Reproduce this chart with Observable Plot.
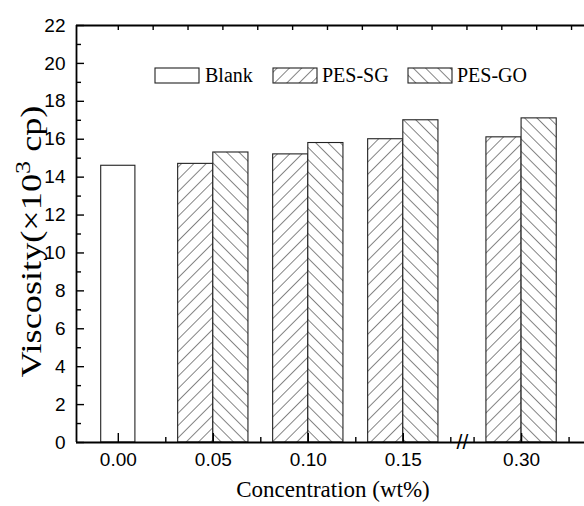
<!DOCTYPE html>
<html><head><meta charset="utf-8">
<script src="https://cdn.jsdelivr.net/npm/d3@7"></script>
<script src="https://cdn.jsdelivr.net/npm/@observablehq/plot@0.6"></script>
<style>
body{margin:0;background:#fff}
#chart{position:relative;width:584px;height:506px;overflow:hidden}
</style>
</head><body><div id="chart"></div>
<script>
// ---- data ----
const categories = ["0.00", "0.05", "0.10", "0.15", "0.30"];
const seriesNames = ["Blank", "PES-SG", "PES-GO"];
const blank = [14.6, null, null, null, null];
const pesSG = [null, 14.7, 15.2, 16.0, 16.1];
const pesGO = [null, 15.3, 15.8, 17.0, 17.1];
const yTicks = [0, 2, 4, 6, 8, 10, 12, 14, 16, 18, 20, 22];
const xTitle = "Concentration (wt%)";

// ---- layout ----
const W = 584, H = 506, mL = 76, mT = 25, mB = 64;
const pos = [0, 1, 2, 3, 4.245];            // broken axis: gap before 0.30
const unitPx = 95;
const xDomain = [-0.44, -0.44 + (W - mL) / unitPx];
const halfBlank = 0.18, bw = 0.37;
const yMinor = d3.range(1, 22, 2);
const xMinor = [0.5, 1.5, 2.5, pos[3] + 0.5, pos[4] - 0.5, pos[4] + 0.5];
const topTicks = d3.range(0, 14).map(i => i * 0.367);
const breakPos = (pos[3] + pos[4]) / 2;

const rows = [];
categories.forEach((c, i) => {
  if (blank[i] != null) rows.push({s: seriesNames[0], x1: pos[i] - halfBlank, x2: pos[i] + halfBlank, v: blank[i]});
  if (pesSG[i] != null) rows.push({s: seriesNames[1], x1: pos[i] - bw, x2: pos[i], v: pesSG[i]});
  if (pesGO[i] != null) rows.push({s: seriesNames[2], x1: pos[i], x2: pos[i] + bw, v: pesGO[i]});
});
const fills = {"Blank": "white", "PES-SG": "url(#pSG)", "PES-GO": "url(#pGO)"};

const axisFont = "'Liberation Sans', Arial, sans-serif";
const serif = "'Liberation Serif', 'Times New Roman', serif";

const chart = Plot.plot({
  width: W, height: H,
  marginLeft: mL, marginRight: 0, marginTop: mT, marginBottom: mB,
  style: {fontFamily: axisFont, background: "white", color: "black"},
  x: {type: "linear", domain: xDomain},
  y: {domain: [0, 22]},
  marks: [
    ...seriesNames.map(s => Plot.rectY(rows.filter(r => r.s === s), {
      x1: "x1", x2: "x2", y1: 0, y2: "v",
      fill: fills[s], stroke: "#222", strokeWidth: 1.1
    })),
    Plot.axisY(yTicks, {tickSize: -8, tickPadding: 19, fontSize: 19, label: null, strokeWidth: 1.4}),
    Plot.axisY(yMinor, {tickSize: -5, tickFormat: () => "", label: null, strokeWidth: 1.4}),
    Plot.axisX(pos, {tickSize: -9, tickPadding: 19, fontSize: 19, label: null, strokeWidth: 1.4,
      tickFormat: d => categories[pos.indexOf(d)]}),
    Plot.axisX(xMinor, {tickSize: -5, tickFormat: () => "", label: null, strokeWidth: 1.4}),
    Plot.axisX(topTicks, {anchor: "top", tickSize: -4, tickFormat: () => "", label: null, strokeWidth: 1.4}),
    Plot.ruleY([0, 22], {strokeWidth: 1.8}),
    Plot.ruleX([xDomain[0]], {strokeWidth: 1.8}),
    Plot.text(["//"], {x: breakPos, y: 0, text: d => d, fontSize: 21, fontFamily: axisFont})
  ]
});

const svg = d3.select(chart);
const defs = svg.insert("defs", ":first-child");
function pattern(id, angle) {
  const p = defs.append("pattern").attr("id", id).attr("patternUnits", "userSpaceOnUse")
    .attr("width", 8.7).attr("height", 8.7).attr("patternTransform", `rotate(${angle})`);
  p.append("rect").attr("width", 8.7).attr("height", 8.7).attr("fill", "white");
  p.append("line").attr("x1", 0).attr("y1", 0).attr("x2", 0).attr("y2", 8.7)
    .attr("stroke", "#222").attr("stroke-width", 1.1);
}
pattern("pSG", 45);
pattern("pGO", -45);

function serifText(sel, size, anchor) {
  return sel.style("font-family", serif).style("font-size", size + "px")
    .style("font-weight", "normal").style("text-anchor", anchor).style("fill", "black");
}

// legend
const legend = svg.append("g");
const items = [
  {s: seriesNames[0], bx: 155, tx: 205},
  {s: seriesNames[1], bx: 273, tx: 322},
  {s: seriesNames[2], bx: 408, tx: 457}
];
items.forEach(it => {
  legend.append("rect").attr("x", it.bx).attr("y", 68).attr("width", 44).attr("height", 15)
    .attr("fill", fills[it.s]).attr("stroke", "#222").attr("stroke-width", 1.1);
  serifText(legend.append("text").attr("x", it.tx).attr("y", 82), 20, "start").text(it.s);
});

// x title
serifText(svg.append("text").attr("x", 333).attr("y", 497), 23, "middle").text(xTitle);

// y title with superscript
const yg = svg.append("g").attr("transform", "translate(41,241.5) rotate(-90)");
const yt = serifText(yg.append("text"), 29, "middle");
yt.append("tspan").text("Viscosity(×10");
yt.append("tspan").attr("dy", -11).style("font-size", "21px").text("3");
yt.append("tspan").attr("dy", 11).text(" cp)");

document.getElementById("chart").appendChild(chart);
const len = yt.node().getComputedTextLength();
yg.attr("transform", `translate(41,241.5) rotate(-90) scale(${Math.min(1.25, 283 / len)},1)`);
</script>
</body></html>
